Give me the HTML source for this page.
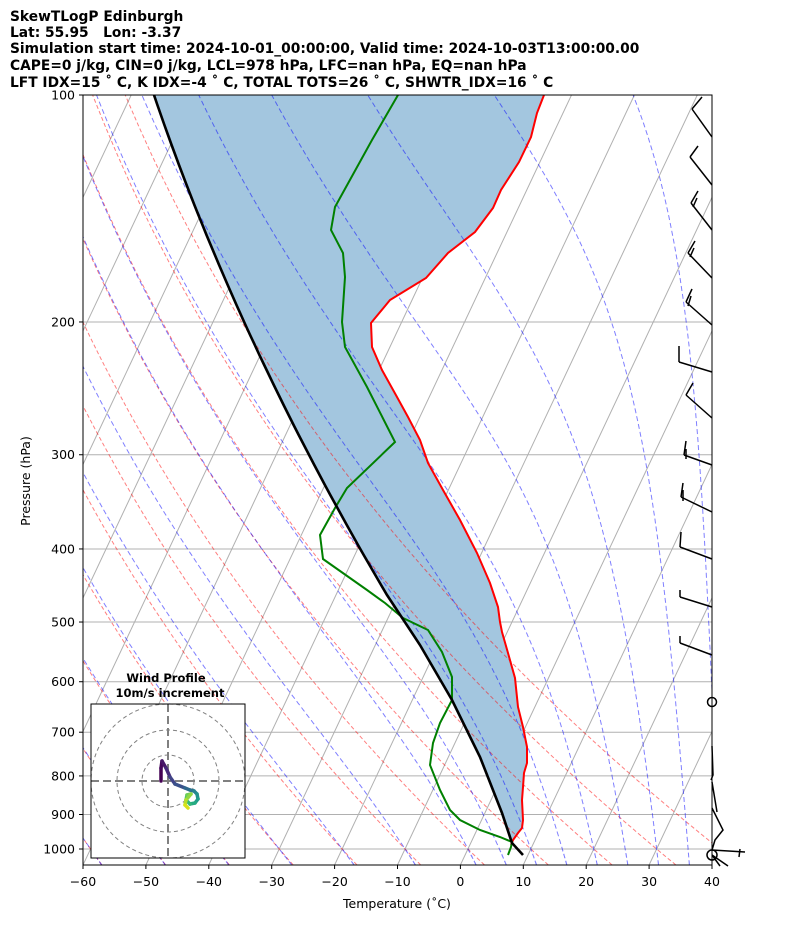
<!DOCTYPE html>
<html><head><meta charset="utf-8"><style>
body{margin:0;background:#fff;}
svg text{font-family:"DejaVu Sans","Liberation Sans",sans-serif;}
</style></head><body>
<svg id="s" width="794" height="937" xmlns="http://www.w3.org/2000/svg">
<defs><clipPath id="c"><rect x="83" y="95" width="629" height="770"/></clipPath>
<clipPath id="ci"><rect x="91" y="704" width="154" height="154"/></clipPath></defs>
<g font-weight="bold" font-size="13.8" fill="#000">
<text x="10" y="21">SkewTLogP Edinburgh</text>
<text x="10" y="37" xml:space="preserve">Lat: 55.95   Lon: -3.37</text>
<text x="10" y="53">Simulation start time: 2024-10-01_00:00:00, Valid time: 2024-10-03T13:00:00.00</text>
<text x="10" y="70">CAPE=0 j/kg, CIN=0 j/kg, LCL=978 hPa, LFC=nan hPa, EQ=nan hPa</text>
<text x="10" y="87">LFT IDX=15 ˚ C, K IDX=-4 ˚ C, TOTAL TOTS=26 ˚ C, SHWTR_IDX=16 ˚ C</text>
</g>
<g id="plot" clip-path="url(#c)"></g>
<g id="over"></g>
</svg>
<script>
const S=document.getElementById('s'),P=document.getElementById('plot'),O=document.getElementById('over');
const NS='http://www.w3.org/2000/svg';
function el(par,tag,a,txt){const e=document.createElementNS(NS,tag);for(const k in a)e.setAttribute(k,a[k]);if(txt!==undefined)e.textContent=txt;par.appendChild(e);return e;}
const Y=p=>95+754*(Math.log10(p)-2);
const X=(T,p)=>83+(T+60)*6.29+0.471*(865-Y(p));
function pl(par,pts,a){a.points=pts.map(q=>q[0].toFixed(1)+','+q[1].toFixed(1)).join(' ');a.fill=a.fill||'none';return el(par,'polyline',a);}
const Rd=287.04,Cp=1005.7,Lv=2.501e6,eps=0.622;
function dtdp(T,p){const tc=T-273.15,es=6.112*Math.exp(17.67*tc/(tc+243.5)),rs=eps*es/(p-es);return (Rd*T+Lv*rs)/(Cp+Lv*Lv*rs*eps/(Rd*T*T))/p;}
function integ(T,p0,p1){const pts=[];let n=200,h=(p1-p0)/n,p=p0;pts.push([T,p]);for(let i=0;i<n;i++){const k1=dtdp(T,p),k2=dtdp(T+h/2*k1,p+h/2),k3=dtdp(T+h/2*k2,p+h/2),k4=dtdp(T+h*k3,p+h);T+=h/6*(k1+2*k2+2*k3+k4);p+=h;pts.push([T,p]);}return pts;}
for(let T=-200;T<=40;T+=10){pl(P,[[X(T,1050),Y(1050)],[X(T,100),Y(100)]],{stroke:'#b0b0b0','stroke-width':1});}
for(let p=100;p<=1000;p+=100){el(P,'line',{x1:83,x2:712,y1:Y(p),y2:Y(p),stroke:'#b0b0b0','stroke-width':1});}
const red=[[544,95],[537,113],[531,137],[519,162],[501,190],[493,208],[475,232],[448,253],[426,278],[390,300],[371,323],[372,347],[382,370],[397,397],[408,417],[420,440],[428,463],[443,490],[460,520],[477,553],[490,583],[498,607],[500,622],[502,632],[508,653],[515,678],[518,707],[523,727],[527,747],[527,763],[524,773],[523,787],[522,800],[523,820],[522,828],[518,833],[513,840],[511,845]];
const grn=[[398,95],[372,140],[335,207],[331,230],[343,253],[345,277],[342,322],[345,347],[367,387],[395,442],[347,488],[335,508],[320,535],[323,559],[367,590],[385,603],[403,618],[428,630],[442,652],[452,677],[452,700],[440,723],[433,743],[430,765],[440,790],[450,810],[460,820],[480,830],[500,837],[512,842],[511,847],[508,855]];
const blk=[];
for(let y=95;y<=600;y+=10){const t=y-95;blk.push([154+0.340*t+2.52e-4*t*t,y]);}
[[420,645],[452,700],[480,757],[502,813],[512,843],[523,855]].forEach(q=>blk.push(q));
const bf=blk.filter(q=>q[1]<=843);
el(P,'polygon',{points:bf.concat(red.slice().reverse()).map(q=>q[0].toFixed(1)+','+q[1].toFixed(1)).join(' '),fill:'#a3c6df'});
for(let t0=-60;t0<=40;t0+=10){const th=t0+273.15,pts=[];for(let p=1050;p>=100;p-=10){pts.push([X(th*Math.pow(p/1000,0.2857)-273.15,p),Y(p)]);}
pl(P,pts,{stroke:'#ff0000','stroke-opacity':0.5,'stroke-width':1,'stroke-dasharray':'4,2.5'});}
const mt=[-60,-50,-40,-30,-20,-10];for(let t=0;t<=40;t+=5)mt.push(t);
for(const t0 of mt){const u=integ(t0+273.15,1000,100),dn=integ(t0+273.15,1000,1050);const pts=dn.reverse().concat(u).map(q=>[X(q[0]-273.15,q[1]),Y(q[1])]);
pl(P,pts,{stroke:'#0000ff','stroke-opacity':0.5,'stroke-width':1,'stroke-dasharray':'5,3'});}
pl(P,red,{stroke:'#ff0000','stroke-width':2});
pl(P,grn,{stroke:'#008000','stroke-width':2});
pl(P,blk,{stroke:'#000','stroke-width':2.6});
el(O,'rect',{x:83,y:95,width:629,height:770,fill:'none',stroke:'#000','stroke-width':1});
for(let p=100;p<=1000;p+=100){const y=Y(p);el(O,'line',{x1:79,x2:83,y1:y,y2:y,stroke:'#000'});el(O,'text',{x:75,y:y+4.5,'text-anchor':'end','font-size':12.5},p);}
for(let T=-60;T<=40;T+=10){const x=83+(T+60)*6.29;el(O,'line',{x1:x,x2:x,y1:865,y2:869,stroke:'#000'});el(O,'text',{x:x,y:886,'text-anchor':'middle','font-size':12.5},T<0?'\u2212'+(-T):T);}
el(O,'text',{x:397,y:908,'text-anchor':'middle','font-size':12.5},'Temperature (\u02DAC)');
el(O,'text',{x:0,y:0,'text-anchor':'middle','font-size':12.5,transform:'translate(30,481) rotate(-90)'},'Pressure (hPa)');
const bs={stroke:'#000','stroke-width':1.5,fill:'none'};
const barbs=[[137,692,109,[[702,97]]],[185,690,157,[[698,146]]],[230,691,203,[[698,191],[697,198,1]]],[278,688,253,[[695,241],[694,248,1]]],[325,686,302,[[692,289],[691,296,1]]],[372,679,362,[[679,346]]],[418,686,395,[[693,383]]],[465,684,455,[[686,441],[686,449,1]]],[512,681,497,[[683,483],[683,490,1]]],[559,680,547,[[681,532]]],[607,680,597,[[680,590]]],[655,680,643,[[680,636]]]];
for(const b of barbs){el(O,'line',Object.assign({x1:712,y1:b[0],x2:b[1],y2:b[2]},bs));for(const f of b[3]){el(O,'line',Object.assign({x1:b[1]+(f[2]?2:0),y1:b[2]+(f[2]?4:0),x2:f[0],y2:f[1]},bs));}}
el(O,'circle',Object.assign({cx:712,cy:702,r:4.5},bs));
pl(O,[[712,746],[713,775],[711,780]],bs);pl(O,[[712,782],[717,812]],bs);
pl(O,[[712,808],[723,830],[715,840],[712,850]],bs);
el(O,'circle',Object.assign({cx:712,cy:855,r:5},bs));
pl(O,[[712,850],[745,852]],bs);pl(O,[[740,849],[739,857]],bs);pl(O,[[712,855],[728,866]],bs);pl(O,[[712,855],[720,866]],bs);
const I=el(O,'g',{});
el(I,'rect',{x:91,y:704,width:154,height:154,fill:'#fff',stroke:'none'});
const ic=el(I,'g',{'clip-path':'url(#ci)'});
for(const r of [26,51,77])el(ic,'circle',{cx:168,cy:781,r:r,fill:'none',stroke:'#808080','stroke-width':1,'stroke-dasharray':'4,3'});
el(ic,'line',{x1:91,x2:245,y1:781,y2:781,stroke:'#808080','stroke-width':2,'stroke-dasharray':'8,4'});
el(ic,'line',{x1:168,x2:168,y1:704,y2:858,stroke:'#808080','stroke-width':2,'stroke-dasharray':'8,4'});
const hod=[[161,781],[161,768],[162,761],[166,768],[170,777],[175,784],[185,788],[190,790],[194,791],[197,794],[198,799],[195,803],[190,804],[186,800],[187,795],[191,794],[186,800],[185,805],[188,808]];
const cols=['#440154','#46085c','#481769','#472a7a','#414487','#3b528b','#31688e','#2c728e','#26828e','#21918c','#1f9e89','#25ab82','#35b779','#4ec36b','#6ece58','#90d743','#b5de2b','#d8e219','#fde725'];
for(let i=0;i<hod.length-1;i++)el(ic,'line',{x1:hod[i][0],y1:hod[i][1],x2:hod[i+1][0],y2:hod[i+1][1],stroke:cols[i],'stroke-width':3.5,'stroke-linecap':'round'});
el(I,'rect',{x:91,y:704,width:154,height:154,fill:'none',stroke:'#000','stroke-width':1});
el(I,'text',{x:166,y:682,'text-anchor':'middle','font-size':11.5,'font-weight':'bold'},'Wind Profile');
el(I,'text',{x:170,y:697,'text-anchor':'middle','font-size':11.5,'font-weight':'bold'},'10m/s increment');
</script>
</body></html>
